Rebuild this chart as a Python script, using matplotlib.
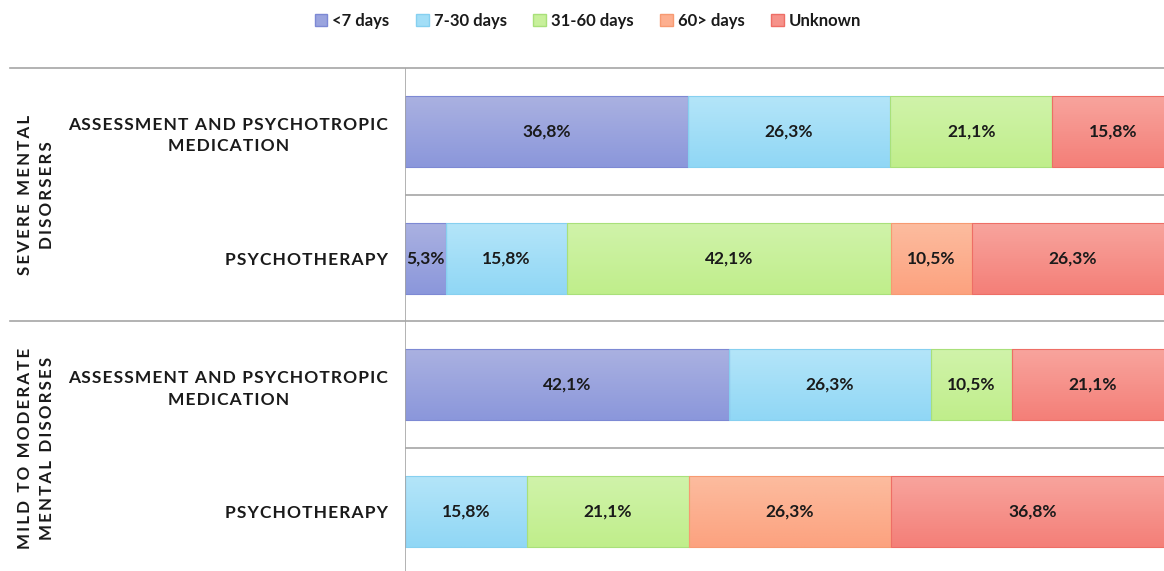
import numpy as np
import matplotlib
matplotlib.use('Agg')
import matplotlib.pyplot as plt
from matplotlib.colors import to_rgb
from matplotlib.lines import Line2D
from matplotlib.patches import Patch

plt.rcParams['font.family'] = ['Lato', 'DejaVu Sans']

# data
series = ['<7 days', '7-30 days', '31-60 days', '60> days', 'Unknown']
rows = ['ASSESSMENT AND PSYCHOTROPIC\nMEDICATION', 'PSYCHOTHERAPY',
        'ASSESSMENT AND PSYCHOTROPIC\nMEDICATION', 'PSYCHOTHERAPY']
groups = ['SEVERE MENTAL\nDISORSERS', 'MILD TO MODERATE\nMENTAL DISORSES']
lt7 = [36.8, 5.3, 42.1, 0]
d7_30 = [26.3, 15.8, 26.3, 15.8]
d31_60 = [21.1, 42.1, 10.5, 21.1]
d60 = [0, 10.5, 0, 26.3]
unknown = [15.8, 26.3, 21.1, 36.8]
values = [lt7, d7_30, d31_60, d60, unknown]

# gradient colours (top, bottom) and edges
tops = ['#aab1e1', '#b4e5f9', '#d0f3aa', '#fcbc9f', '#f8a49d']
bots = ['#8b97db', '#90d7f5', '#c0ee8b', '#fca27f', '#f47f78']
edges = ['#7d89d4', '#86d0f0', '#a9e07a', '#f79a72', '#ee6e66']
mids = ['#9aa4de', '#a2def7', '#c8f09b', '#fdaf8f', '#f6928a']


def spaced(s, sep='\u200a'):
    return '\n'.join(sep.join(line) for line in s.split('\n'))


fig = plt.figure(figsize=(11.64, 5.71), dpi=100)
ax = fig.add_axes([405 / 1164, 1 - 575 / 571, 769 / 1164, 507 / 571])

ypos = np.arange(len(rows))
h = 0.56
left = np.zeros(len(rows))
for i, vals in enumerate(values):
    bars = ax.barh(ypos, vals, height=h, left=left, facecolor='none',
                   edgecolor=edges[i], linewidth=0.8, zorder=3)
    c0 = np.array(to_rgb(tops[i]))
    c1 = np.array(to_rgb(bots[i]))
    grad = np.linspace(0, 1, 64)[:, None, None] * (c1 - c0) + c0
    for b, v in zip(bars, vals):
        if v == 0:
            continue
        x0, y0 = b.get_x(), b.get_y()
        ax.imshow(grad, extent=(x0, x0 + b.get_width(), y0 + b.get_height(), y0),
                  origin='upper', aspect='auto', zorder=2, interpolation='bilinear')
        ax.text(x0 + b.get_width() / 2, y0 + b.get_height() / 2,
                ('%.1f%%' % v).replace('.', ','), ha='center', va='center',
                fontsize=12.5, fontweight='bold', color='#1a1a1a', zorder=4)
    left += np.array(vals)

ax.set_xlim(0, 100)
ax.set_ylim(3.5, -0.5)
ax.set_xticks([])
ax.set_yticks(ypos)
ax.set_yticklabels([spaced(r) for r in rows], fontsize=12.5, fontweight='bold',
                   color='#1a1a1a', linespacing=1.4)
for t in ax.get_yticklabels():
    t.set_multialignment('center')
ax.tick_params(axis='y', length=0, pad=12)
for s in ax.spines.values():
    s.set_visible(False)

grid = '#a6a6a6'
ax.axvline(0, color=grid, lw=1.2, zorder=5)
for y in [0.5, 2.5]:
    ax.axhline(y, color=grid, lw=1.2, zorder=1)
for y in [-0.5, 1.5]:
    ax.add_line(Line2D([-395 / 7.69, 100], [y, y], color=grid, lw=1.2,
                       clip_on=False))

for g, yc in zip(groups, [0.5, 2.5]):
    ax.text(-369 / 7.69, yc, spaced(g, '\u2009'), rotation=90, ha='center',
            va='center', fontsize=12.2, fontweight='bold', color='#1a1a1a',
            multialignment='center', linespacing=1.45)

handles = [Patch(facecolor=mids[i], edgecolor=edges[i], label=series[i])
           for i in range(len(series))]
fig.legend(handles=handles, loc='center', bbox_to_anchor=(588 / 1164, 1 - 21 / 571),
           ncol=5, frameon=False, handlelength=0.75, handleheight=0.75,
           handletextpad=0.3, columnspacing=1.6, prop={'weight': 'bold', 'size': 12})
for t in fig.legends[0].get_texts():
    t.set_color('#1a1a1a')

fig.savefig('out.png', dpi=100)
